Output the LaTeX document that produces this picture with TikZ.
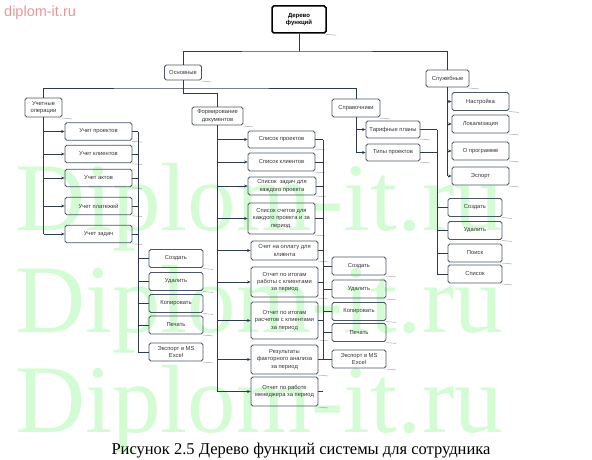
\documentclass[tikz,border=0pt]{standalone}
\usepackage{fontspec}
\setmainfont{Liberation Serif}
\newfontfamily\boxfont{Liberation Sans}
\usetikzlibrary{arrows.meta}
\definecolor{linec}{HTML}{2E3A4F}
\definecolor{boxc}{HTML}{4A5568}
\definecolor{txtc}{HTML}{333333}
\definecolor{wm}{RGB}{212,252,212}
\definecolor{pinkc}{RGB}{232,150,150}
\definecolor{shadc}{HTML}{A8A8A8}
\begin{document}
\begin{tikzpicture}[x=1pt,y=-1pt,
 box/.style={draw=boxc,line width=0.8pt,rounded corners=1.8pt,inner sep=0.5pt,align=center,font=\boxfont\fontsize{5.8}{7.4}\selectfont,text=txtc},
 conn/.style={draw=linec,line width=0.9pt},
 arr/.style={conn,-{Stealth[length=3.5pt,width=3pt]}},
 shad/.style={draw=shadc,line width=0.5pt}]
\useasboundingbox (0,0) rectangle (592,460);

% watermark
\node[anchor=base west,font=\fontsize{97}{97}\selectfont,text=wm,inner sep=0] (wm1) at (15,230) {Diplom-it.ru};
\node[anchor=base west,font=\fontsize{97}{97}\selectfont,text=wm,inner sep=0] (wm2) at (15,332) {Diplom-it.ru};
\node[anchor=base west,font=\fontsize{97}{97}\selectfont,text=wm,inner sep=0] (wm3) at (15,432) {Diplom-it.ru};
\node[anchor=base west,font=\boxfont\fontsize{14.5}{15}\selectfont,text=pinkc,inner sep=0] (logo) at (4,17) {diplom-it.ru};

% caption
\node[anchor=base,font=\fontsize{16.5}{18}\selectfont,inner sep=0] (cap) at (301,454) {Рисунок 2.5 Дерево функций системы для сотрудника};

% top levels
\node[box,draw=black,line width=1.5pt,font=\boxfont\bfseries\fontsize{6}{7.5}\selectfont,text=black,minimum width=54pt,minimum height=27pt] (top) at (299,19.5) {Дерево\\функций};
\node[box,minimum width=37pt,minimum height=15pt] (osn) at (183,72.5) {Основные};
\node[box,minimum width=43pt,minimum height=17pt] (sluzh) at (447.5,78.5) {Служебные};
\node[box,minimum width=37pt,minimum height=19pt] (uch) at (43.5,107.5) {Учетные\\операции};
\node[box,minimum width=51pt,minimum height=18pt] (form) at (217.5,116) {Формирование\\документов};
\node[box,minimum width=48pt,minimum height=18pt] (sprav) at (356,108) {Справочники};

% accounting
\node[box,minimum width=67pt,minimum height=17.5pt] (up) at (98.5,131.5) {Учет проектов};
\node[box,minimum width=67pt,minimum height=17.5pt] (uk) at (98.5,154) {Учет клиентов};
\node[box,minimum width=67pt,minimum height=17.5pt] (ua) at (98.5,178) {Учет актов};
\node[box,minimum width=67pt,minimum height=17.5pt] (upl) at (98.5,206) {Учет платежей};
\node[box,minimum width=67pt,minimum height=17.5pt] (uz) at (98.5,234) {Учет задач};

\node[box,minimum width=54pt,minimum height=18pt] (c1) at (176,258.5) {Создать};
\node[box,minimum width=54pt,minimum height=18pt] (d1) at (176,281.5) {Удалить};
\node[box,minimum width=54pt,minimum height=18pt] (k1) at (176,303.5) {Копировать};
\node[box,minimum width=54pt,minimum height=18pt] (p1) at (176,325) {Печать};
\node[box,minimum width=54pt,minimum height=18pt] (e1) at (176,352) {Экспорт в MS\\Excel};

% documents
\node[box,minimum width=67pt,minimum height=17pt] (sp) at (281.5,139.5) {Список проектов};
\node[box,minimum width=67pt,minimum height=18pt] (sk) at (281.5,162) {Список клиентов};
\node[box,minimum width=68pt,minimum height=18pt] (sz) at (282,186) {Список \ задач для\\каждого проекта};
\node[box,minimum width=67pt,minimum height=31pt] (ss) at (281.5,218.5) {Список счетов для\\каждого проекта и за\\период.};
\node[box,minimum width=67pt,minimum height=19pt] (so) at (284.5,250.5) {Счет на оплату для\\клиента};
\node[box,minimum width=67pt,minimum height=30pt] (o1) at (284.5,282) {Отчет по итогам\\работы с клиентами\\за период};
\node[box,minimum width=67pt,minimum height=37pt] (o2) at (284.5,320.5) {Отчет по итогам\\расчетов с клиентами\\за период};
\node[box,minimum width=67pt,minimum height=29pt] (rf) at (284.5,359.5) {Результаты\\факторного анализа\\за период};
\node[box,minimum width=67pt,minimum height=29pt] (om) at (284.5,391.5) {Отчет по работе\\менеджера за период};

\node[box,minimum width=54pt,minimum height=18pt] (c2) at (359,266) {Создать};
\node[box,minimum width=54pt,minimum height=18pt] (d2) at (359,289) {Удалить};
\node[box,minimum width=54pt,minimum height=18pt] (k2) at (359,311.5) {Копировать};
\node[box,minimum width=54pt,minimum height=18pt] (p2) at (359,332.5) {Печать};
\node[box,minimum width=54pt,minimum height=18pt] (e2) at (359,359) {Экспорт в MS\\Excel};

% references
\node[box,minimum width=54pt,minimum height=17pt] (tp) at (393,129.5) {Тарифные планы};
\node[box,minimum width=54pt,minimum height=17pt] (tip) at (393,152.5) {Типы проектов};

\node[box,minimum width=54pt,minimum height=18pt] (c3) at (475,207.5) {Создать};
\node[box,minimum width=54pt,minimum height=18pt] (d3) at (475,230.5) {Удалить};
\node[box,minimum width=54pt,minimum height=18pt] (s3) at (475,253) {Поиск};
\node[box,minimum width=54pt,minimum height=18pt] (l3) at (475,274) {Список};

% service
\node[box,minimum width=57pt,minimum height=18pt] (ns) at (480.5,101.5) {Настройка};
\node[box,minimum width=57pt,minimum height=18pt] (lo) at (480.5,124) {Локализация};
\node[box,minimum width=57pt,minimum height=18pt] (op) at (480.5,151) {О программе};
\node[box,minimum width=57pt,minimum height=18pt] (ex) at (480.5,176) {Эспорт};

% shadows
\foreach \n in {top,osn,sluzh,uch,form,sprav,up,uk,ua,upl,uz,c1,d1,k1,p1,e1,sp,sk,sz,ss,so,o1,o2,rf,om,c2,d2,k2,p2,e2,tp,tip,c3,d3,s3,l3,ns,lo,op,ex}
  \draw[shad] (\n.south east) ++(-0.5,0.6) -- ++(10,0.9);

% connectors
\coordinate (j0) at (299,51);
\draw[conn] (top.south) -- (j0);
\draw[conn] (osn.north) |- (j0) -| (sluzh.north);
\coordinate (j1) at (183,88);
\draw[conn] (uch.north) |- (j1) -| (sprav.north);
\coordinate (j2) at (183,93);
\draw[conn] (osn.south) -- (j2) -| (form.north);

\draw[conn] (uch.south) -- (uch.south |- uz.west);
\foreach \n in {up,uk,ua,upl,uz} \draw[arr] (uch.south |- \n.west) -- (\n.west);
\coordinate (b1) at (138,0);
\draw[conn] (b1 |- up.east) -- (b1 |- e1.west);
\foreach \n in {up,uk,ua,upl,uz} \draw[conn] (\n.east) -- (b1 |- \n.east);
\foreach \n in {c1,d1,k1,p1,e1} \draw[conn] (b1 |- \n.west) -- (\n.west);

\draw[conn] (form.south) -- (form.south |- om.west);
\foreach \n in {sp,sk,sz,ss,so,o1,o2,rf,om} \draw[arr] (form.south |- \n.west) -- (\n.west);
\coordinate (b2) at (323,0);
\draw[conn] (b2 |- sp.east) -- (b2 |- e2.west);
\foreach \n in {sp,sk,sz,ss,so,o1,o2,rf,om} \draw[conn] (\n.east) -- (b2 |- \n.east);
\foreach \n in {c2,d2,k2,p2,e2} \draw[conn] (b2 |- \n.west) -- (\n.west);

\draw[conn] (sprav.south) -- (sprav.south |- tip.west);
\foreach \n in {tp,tip} \draw[arr] (sprav.south |- \n.west) -- (\n.west);
\coordinate (b3) at (437,0);
\draw[conn] (b3 |- tp.east) -- (b3 |- l3.west);
\foreach \n in {tp,tip} \draw[conn] (\n.east) -- (b3 |- \n.east);
\foreach \n in {c3,d3,s3,l3} \draw[conn] (b3 |- \n.west) -- (\n.west);

\draw[conn] (sluzh.south) -- (sluzh.south |- ex.west);
\foreach \n in {ns,lo,op,ex} \draw[arr] (sluzh.south |- \n.west) -- (\n.west);
\end{tikzpicture}
\end{document}
